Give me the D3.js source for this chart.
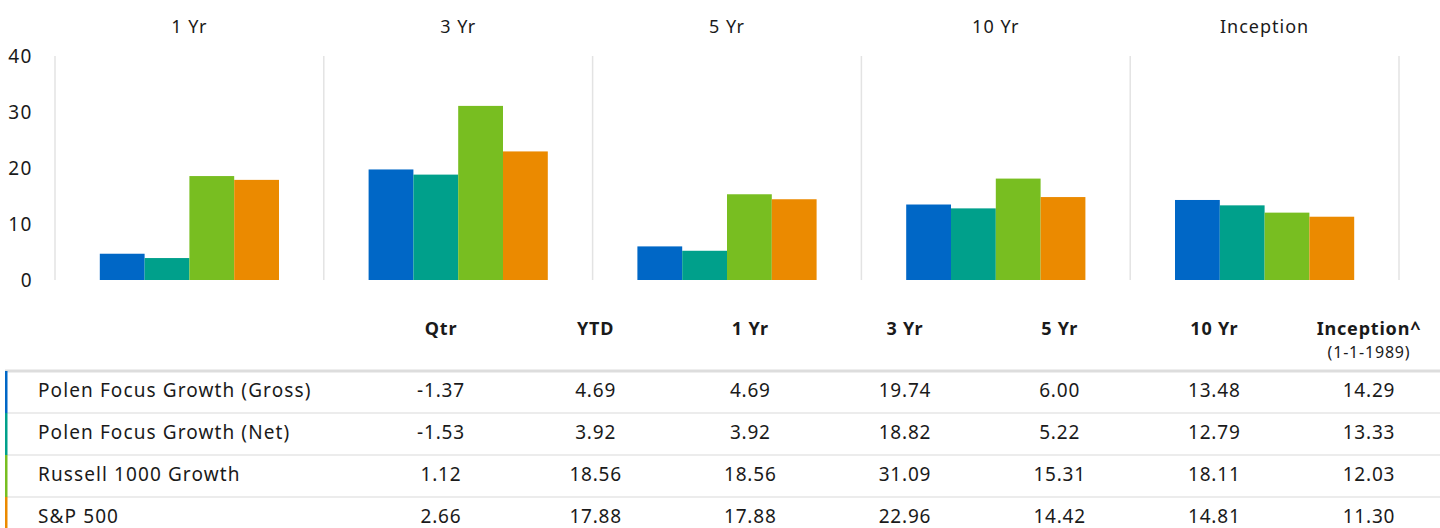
<!DOCTYPE html>
<html>
<head>
<meta charset="utf-8">
<script src="https://cdn.jsdelivr.net/npm/d3@7"></script>
<style>
  body { margin: 0; background: #fff; }
  svg { display: block; }
</style>
</head>
<body>
<svg id="vis" width="1440" height="528"></svg>
<script>
// data
var series = ["Polen Focus Growth (Gross)", "Polen Focus Growth (Net)", "Russell 1000 Growth", "S&P 500"];
var columns = ["Qtr", "YTD", "1 Yr", "3 Yr", "5 Yr", "10 Yr", "Inception^"];
var chartPeriods = ["1 Yr", "3 Yr", "5 Yr", "10 Yr", "Inception"];
var gross = [-1.37, 4.69, 4.69, 19.74, 6.00, 13.48, 14.29];
var net = [-1.53, 3.92, 3.92, 18.82, 5.22, 12.79, 13.33];
var russell = [1.12, 18.56, 18.56, 31.09, 15.31, 18.11, 12.03];
var sp500 = [2.66, 17.88, 17.88, 22.96, 14.42, 14.81, 11.30];
var yTicks = [0, 10, 20, 30, 40];
var colors = ["#0067c6", "#00a08b", "#78be21", "#eb8a00"];

var rows = [gross, net, russell, sp500];
var font = "Noto Sans";

function makeCanvas(visName){
    return d3.select(visName);
}

function addText(canvas, x, y, text, anchor, size, weight, spacing){
    return canvas.append("text")
        .attr("x", x)
        .attr("y", y)
        .attr("text-anchor", anchor)
        .style("font-family", font)
        .style("font-size", size)
        .style("font-weight", weight || 400)
        .style("letter-spacing", (spacing === undefined ? 1 : spacing) + "px")
        .style("fill", "#1a1a1a")
        .text(text);
}

var canvas = makeCanvas("#vis");

// chart part
var xPanel = d3.scaleBand().domain(chartPeriods).range([55, 1399]);
var xSeries = d3.scaleBand().domain(series).range([0, xPanel.bandwidth()]).paddingOuter(1);
var y = d3.scaleLinear().domain([0, 40]).range([280, 56]);

// panel dividers
var edges = chartPeriods.map(function(p){ return xPanel(p); }).concat([xPanel.range()[1]]);
canvas.selectAll("line.divider")
    .data(edges)
    .enter().append("line")
    .attr("class", "divider")
    .attr("x1", function(d){ return d; })
    .attr("x2", function(d){ return d; })
    .attr("y1", y(40))
    .attr("y2", y(0))
    .attr("stroke", "#e3e3e3")
    .attr("stroke-width", 1.5);

// y ticks
yTicks.forEach(function(t){
    addText(canvas, 33, y(t) + 7, t, "end", 19, 400, 1.5);
});

// panel labels
chartPeriods.forEach(function(p){
    addText(canvas, xPanel(p) + xPanel.bandwidth() / 2, 33, p, "middle", 18);
});

// bars
chartPeriods.forEach(function(p, pi){
    var col = pi + 2;
    var g = canvas.append("g").attr("transform", "translate(" + xPanel(p) + ",0)");
    g.selectAll("rect")
        .data(series)
        .enter().append("rect")
        .attr("x", function(s){ return xSeries(s); })
        .attr("width", xSeries.bandwidth())
        .attr("y", function(s, i){ return y(Math.max(0, rows[i][col])); })
        .attr("height", function(s, i){ return Math.abs(y(rows[i][col]) - y(0)); })
        .style("fill", function(s, i){ return colors[i]; });
});

// table part
var xCol = d3.scalePoint().domain(columns).range([441, 1369]);
var yRow = d3.scaleBand().domain(series).range([371, 539]);

columns.forEach(function(c){
    addText(canvas, xCol(c), 335, c, "middle", 18, 700, 0.8);
});
addText(canvas, xCol("Inception^"), 358, "(1-1-1989)", "middle", 16, 400, 0.8);

// row separators
canvas.selectAll("line.rowsep")
    .data(series.slice(1))
    .enter().append("line")
    .attr("class", "rowsep")
    .attr("x1", 5)
    .attr("x2", 1440)
    .attr("y1", function(s){ return yRow(s); })
    .attr("y2", function(s){ return yRow(s); })
    .attr("stroke", "#e6e6e6")
    .attr("stroke-width", 1.5);

// header rule
canvas.append("rect")
    .attr("x", 5)
    .attr("y", yRow.range()[0] - 1.5)
    .attr("width", 1435)
    .attr("height", 3)
    .style("fill", "#dddddd");

// colour markers
canvas.selectAll("rect.marker")
    .data(series)
    .enter().append("rect")
    .attr("class", "marker")
    .attr("x", 5)
    .attr("y", function(s){ return yRow(s); })
    .attr("width", 2.5)
    .attr("height", yRow.bandwidth())
    .style("fill", function(s, i){ return colors[i]; });

// row content
series.forEach(function(s, i){
    var cy = yRow(s) + yRow.bandwidth() / 2 + 5;
    addText(canvas, 38, cy, s, "start", 19, 400, 1.1);
    columns.forEach(function(c, j){
        addText(canvas, xCol(c), cy, rows[i][j].toFixed(2), "middle", 19, 400, 0.8);
    });
});
</script>
</body>
</html>
